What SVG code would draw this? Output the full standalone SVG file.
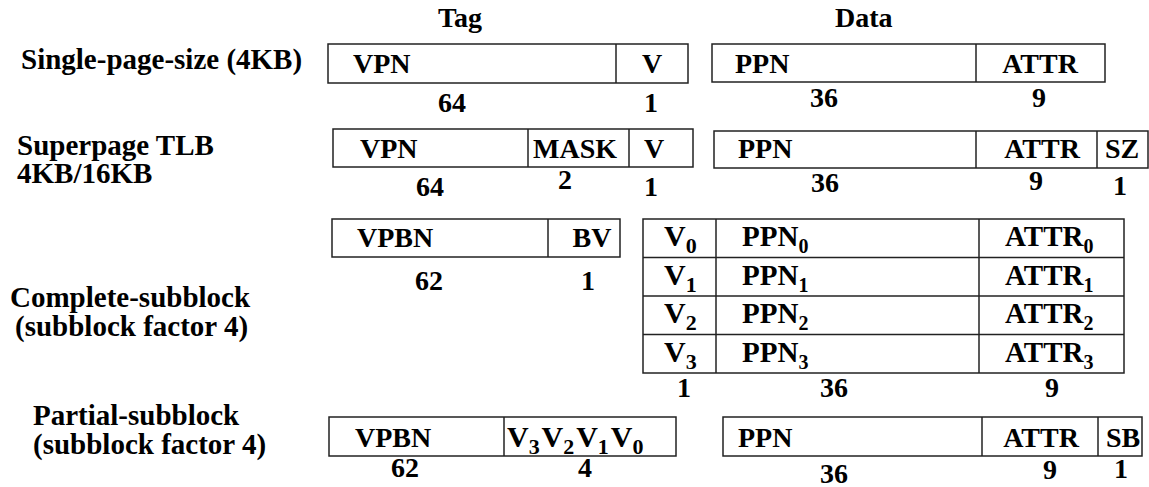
<svg xmlns="http://www.w3.org/2000/svg" width="1149" height="487" viewBox="0 0 1149 487">
  <style>
    text { font-family: "Liberation Serif", "DejaVu Serif", serif; font-weight: bold; fill: #000; }
    .lbl { font-size: 29px; }
    .hd { font-size: 28px; }
    .f { font-size: 28px; }
    .t { font-size: 29px; }
    .v { font-size: 30px; }
    .n { font-size: 28px; text-anchor: middle; }
    .c { text-anchor: middle; }
    .sub { font-size: 20px; }
    .vsub { font-size: 22px; }
    .box { fill: #fff; stroke: #222; stroke-width: 1.5; }
    .div { stroke: #222; stroke-width: 1.5; }
  </style>

  <!-- column headings -->
  <text class="hd" x="438" y="27">Tag</text>
  <text class="hd" x="835" y="27">Data</text>

  <!-- Single-page-size TLB entry -->
  <g id="single-page">
    <text class="lbl" x="21" y="69">Single-page-size (4KB)</text>
    <g id="single-tag">
      <rect class="box" x="328" y="44" width="360" height="39"/>
      <line class="div" x1="616" y1="44" x2="616" y2="83"/>
      <text class="f" x="353" y="73">VPN</text>
      <text class="f c" x="652" y="73">V</text>
      <text class="n" x="452" y="112">64</text>
      <text class="n" x="651" y="112">1</text>
    </g>
    <g id="single-data">
      <rect class="box" x="712" y="44" width="393" height="38"/>
      <line class="div" x1="976" y1="44" x2="976" y2="82"/>
      <text class="f" x="735" y="73">PPN</text>
      <text class="f c" x="1040" y="73">ATTR</text>
      <text class="n" x="824" y="107">36</text>
      <text class="n" x="1039" y="107">9</text>
    </g>
  </g>

  <!-- Superpage TLB entry -->
  <g id="superpage">
    <text class="lbl" x="17" y="155">Superpage TLB</text>
    <text class="lbl" x="17" y="183">4KB/16KB</text>
    <g id="super-tag">
      <rect class="box" x="333" y="129" width="360" height="38"/>
      <line class="div" x1="528" y1="129" x2="528" y2="167"/>
      <line class="div" x1="629" y1="129" x2="629" y2="167"/>
      <text class="f" x="360" y="158">VPN</text>
      <text class="f c" x="575" y="158">MASK</text>
      <text class="f c" x="654" y="158">V</text>
      <text class="n" x="430" y="196">64</text>
      <text class="n" x="565" y="189">2</text>
      <text class="n" x="651" y="196">1</text>
    </g>
    <g id="super-data">
      <rect class="box" x="714" y="131" width="434" height="37"/>
      <line class="div" x1="976" y1="131" x2="976" y2="168"/>
      <line class="div" x1="1097" y1="131" x2="1097" y2="168"/>
      <text class="f" x="738" y="158">PPN</text>
      <text class="f c" x="1042" y="158">ATTR</text>
      <text class="f c" x="1122" y="158">SZ</text>
      <text class="n" x="825" y="192">36</text>
      <text class="n" x="1036" y="190">9</text>
      <text class="n" x="1120" y="195">1</text>
    </g>
  </g>

  <!-- Complete-subblock TLB entry -->
  <g id="complete-subblock">
    <text class="lbl" x="10" y="307">Complete-subblock</text>
    <text class="lbl" x="15" y="336">(subblock factor 4)</text>
    <g id="complete-tag">
      <rect class="box" x="332" y="219" width="288" height="38"/>
      <line class="div" x1="548" y1="219" x2="548" y2="257"/>
      <text class="f" x="357" y="247">VPBN</text>
      <text class="f c" x="592" y="247">BV</text>
      <text class="n" x="429" y="290">62</text>
      <text class="n" x="588" y="290">1</text>
    </g>
    <g id="complete-data">
      <rect class="box" x="643" y="219" width="481" height="154"/>
      <line class="div" x1="643" y1="257.5" x2="1124" y2="257.5"/>
      <line class="div" x1="643" y1="296" x2="1124" y2="296"/>
      <line class="div" x1="643" y1="334.5" x2="1124" y2="334.5"/>
      <line class="div" x1="716" y1="219" x2="716" y2="373"/>
      <line class="div" x1="979" y1="219" x2="979" y2="373"/>

      <text class="v" x="664" y="246">V<tspan class="vsub" dy="7">0</tspan></text>
      <text class="t" x="742" y="246">PPN<tspan class="sub" dy="7">0</tspan></text>
      <text class="t" x="1005" y="246">ATTR<tspan class="sub" dy="7">0</tspan></text>

      <text class="v" x="664" y="284.5">V<tspan class="vsub" dy="7">1</tspan></text>
      <text class="t" x="742" y="284.5">PPN<tspan class="sub" dy="7">1</tspan></text>
      <text class="t" x="1005" y="284.5">ATTR<tspan class="sub" dy="7">1</tspan></text>

      <text class="v" x="664" y="323">V<tspan class="vsub" dy="7">2</tspan></text>
      <text class="t" x="742" y="323">PPN<tspan class="sub" dy="7">2</tspan></text>
      <text class="t" x="1005" y="323">ATTR<tspan class="sub" dy="7">2</tspan></text>

      <text class="v" x="664" y="361.5">V<tspan class="vsub" dy="7">3</tspan></text>
      <text class="t" x="742" y="361.5">PPN<tspan class="sub" dy="7">3</tspan></text>
      <text class="t" x="1005" y="361.5">ATTR<tspan class="sub" dy="7">3</tspan></text>

      <text class="n" x="684" y="397">1</text>
      <text class="n" x="834" y="397">36</text>
      <text class="n" x="1052" y="397">9</text>
    </g>
  </g>

  <!-- Partial-subblock TLB entry -->
  <g id="partial-subblock">
    <text class="lbl" x="33" y="425">Partial-subblock</text>
    <text class="lbl" x="33" y="454">(subblock factor 4)</text>
    <g id="partial-tag">
      <rect class="box" x="329" y="417" width="347" height="39"/>
      <line class="div" x1="504" y1="417" x2="504" y2="456"/>
      <text class="f" x="355" y="447">VPBN</text>
      <text class="v" y="447"><tspan x="507">V</tspan><tspan class="vsub" dy="7">3</tspan><tspan x="541.6" dy="-7">V</tspan><tspan class="vsub" dy="7">2</tspan><tspan x="576.2" dy="-7">V</tspan><tspan class="vsub" dy="7">1</tspan><tspan x="610.8" dy="-7">V</tspan><tspan class="vsub" dy="7">0</tspan></text>
      <text class="n" x="405" y="477">62</text>
      <text class="n" x="585" y="477">4</text>
    </g>
    <g id="partial-data">
      <rect class="box" x="723" y="417" width="419" height="39"/>
      <line class="div" x1="982" y1="417" x2="982" y2="456"/>
      <line class="div" x1="1098" y1="417" x2="1098" y2="456"/>
      <text class="f" x="738" y="447">PPN</text>
      <text class="f c" x="1041" y="447">ATTR</text>
      <text class="f c" x="1123" y="447">SB</text>
      <text class="n" x="834" y="483">36</text>
      <text class="n" x="1050" y="479">9</text>
      <text class="n" x="1121" y="478">1</text>
    </g>
  </g>
</svg>
